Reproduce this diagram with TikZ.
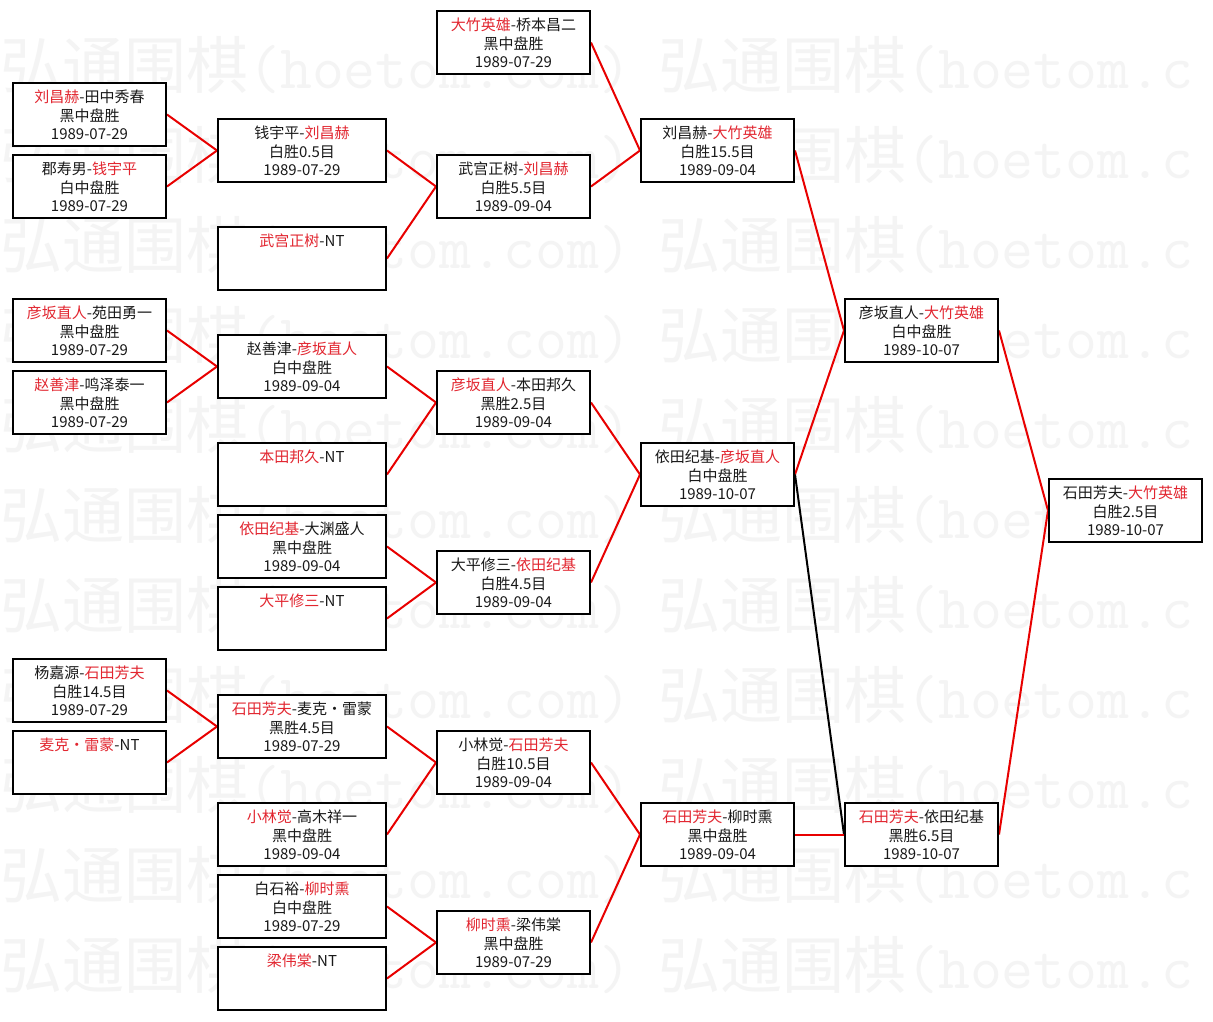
\documentclass[tikz,border=0pt]{standalone}
\usepackage{fontspec}
\setmainfont{Noto Sans CJK SC}
\pgfdeclarelayer{bg}
\pgfsetlayers{bg,main}
\definecolor{wm}{RGB}{244,244,244}
\definecolor{rt}{RGB}{226,38,48}
\definecolor{rl}{RGB}{232,0,0}
\definecolor{tx}{RGB}{25,25,25}
\newcommand{\R}[1]{\textcolor{rt}{#1}}
\tikzset{
 box/.style={draw=black, line width=2pt, fill=white, minimum height=63pt, inner sep=0pt},
 txt/.style={align=center, inner sep=0pt, text=tx, font=\fontsize{15}{18.5}\selectfont},
 conn/.style={draw=rl, line width=2pt},
 bconn/.style={draw=black, line width=2pt},
 wmark/.style={anchor=west, inner sep=0pt, text=wm, font=\fontsize{62}{62}\selectfont},
}
\newcommand{\bx}[7]{%
 \node[box, minimum width=#4pt] (#1) at (#2,#3+32.5) {};
 \node[txt] (#1t) at ([yshift=-3pt]#1.center) {\strut #5\\\strut #6\\\strut #7};
}
\begin{document}
\begin{tikzpicture}[x=1pt,y=-1pt]
\useasboundingbox (0,0) rectangle (1213,1021);
\clip (0,0) rectangle (1213,1021);
\begin{pgfonlayer}{bg}
\fill[white] (0,0) rectangle (1213,1021);
\foreach \k in {0,...,10}{
 \node[wmark] (wma\k) at (0,65+90*\k) {弘通围棋{\ttfamily(hoetom.com)}};
 \node[wmark] (wmb\k) at (658,65+90*\k) {弘通围棋{\ttfamily(hoetom.c}};
}
\end{pgfonlayer}
% column 1
\bx{A1}{89.5}{82}{153}{\R{刘昌赫}-田中秀春}{黑中盘胜}{1989-07-29}
\bx{A2}{89.5}{154}{153}{郡寿男-\R{钱宇平}}{白中盘胜}{1989-07-29}
\bx{A3}{89.5}{298}{153}{\R{彦坂直人}-苑田勇一}{黑中盘胜}{1989-07-29}
\bx{A4}{89.5}{370}{153}{\R{赵善津}-鸣泽泰一}{黑中盘胜}{1989-07-29}
\bx{A5}{89.5}{658}{153}{杨嘉源-\R{石田芳夫}}{白胜14.5目}{1989-07-29}
\bx{A6}{89.5}{730}{153}{\R{麦克・雷蒙}-NT}{}{}
% column 2
\bx{B1}{302}{118}{168}{钱宇平-\R{刘昌赫}}{白胜0.5目}{1989-07-29}
\bx{B2}{302}{226}{168}{\R{武宫正树}-NT}{}{}
\bx{B3}{302}{334}{168}{赵善津-\R{彦坂直人}}{白中盘胜}{1989-09-04}
\bx{B4}{302}{442}{168}{\R{本田邦久}-NT}{}{}
\bx{B5}{302}{514}{168}{\R{依田纪基}-大渊盛人}{黑中盘胜}{1989-09-04}
\bx{B6}{302}{586}{168}{\R{大平修三}-NT}{}{}
\bx{B7}{302}{694}{168}{\R{石田芳夫}-麦克・雷蒙}{黑胜4.5目}{1989-07-29}
\bx{B8}{302}{802}{168}{\R{小林觉}-高木祥一}{黑中盘胜}{1989-09-04}
\bx{B9}{302}{874}{168}{白石裕-\R{柳时熏}}{白中盘胜}{1989-07-29}
\bx{B10}{302}{946}{168}{\R{梁伟棠}-NT}{}{}
% column 3
\bx{C0}{513.5}{10}{153}{\R{大竹英雄}-桥本昌二}{黑中盘胜}{1989-07-29}
\bx{C1}{513.5}{154}{153}{武宫正树-\R{刘昌赫}}{白胜5.5目}{1989-09-04}
\bx{C2}{513.5}{370}{153}{\R{彦坂直人}-本田邦久}{黑胜2.5目}{1989-09-04}
\bx{C3}{513.5}{550}{153}{大平修三-\R{依田纪基}}{白胜4.5目}{1989-09-04}
\bx{C4}{513.5}{730}{153}{小林觉-\R{石田芳夫}}{白胜10.5目}{1989-09-04}
\bx{C5}{513.5}{910}{153}{\R{柳时熏}-梁伟棠}{黑中盘胜}{1989-07-29}
% column 4
\bx{D1}{717.5}{118}{153}{刘昌赫-\R{大竹英雄}}{白胜15.5目}{1989-09-04}
\bx{D2}{717.5}{442}{153}{依田纪基-\R{彦坂直人}}{白中盘胜}{1989-10-07}
\bx{D3}{717.5}{802}{153}{\R{石田芳夫}-柳时熏}{黑中盘胜}{1989-09-04}
% column 5
\bx{E1}{921.5}{298}{153}{彦坂直人-\R{大竹英雄}}{白中盘胜}{1989-10-07}
\bx{E2}{921.5}{802}{153}{\R{石田芳夫}-依田纪基}{黑胜6.5目}{1989-10-07}
% column 6
\bx{F}{1125.5}{478}{153}{石田芳夫-\R{大竹英雄}}{白胜2.5目}{1989-10-07}
\begin{pgfonlayer}{bg}
\draw[conn] (A1.east) -- (B1.west);
\draw[conn] (A2.east) -- (B1.west);
\draw[conn] (B1.east) -- (C1.west);
\draw[conn] (B2.east) -- (C1.west);
\draw[conn] (C0.east) -- (D1.west);
\draw[conn] (C1.east) -- (D1.west);
\draw[conn] (A3.east) -- (B3.west);
\draw[conn] (A4.east) -- (B3.west);
\draw[conn] (B3.east) -- (C2.west);
\draw[conn] (B4.east) -- (C2.west);
\draw[conn] (B5.east) -- (C3.west);
\draw[conn] (B6.east) -- (C3.west);
\draw[conn] (C2.east) -- (D2.west);
\draw[conn] (C3.east) -- (D2.west);
\draw[conn] (A5.east) -- (B7.west);
\draw[conn] (A6.east) -- (B7.west);
\draw[conn] (B7.east) -- (C4.west);
\draw[conn] (B8.east) -- (C4.west);
\draw[conn] (B9.east) -- (C5.west);
\draw[conn] (B10.east) -- (C5.west);
\draw[conn] (C4.east) -- (D3.west);
\draw[conn] (C5.east) -- (D3.west);
\draw[conn] (D1.east) -- (E1.west);
\draw[conn] (D2.east) -- (E1.west);
\draw[bconn] (D2.east) -- (E2.west);
\draw[conn] (D3.east) -- (E2.west);
\draw[conn] (E1.east) -- (F.west);
\draw[conn] (E2.east) -- (F.west);
\end{pgfonlayer}
\end{tikzpicture}
\end{document}
